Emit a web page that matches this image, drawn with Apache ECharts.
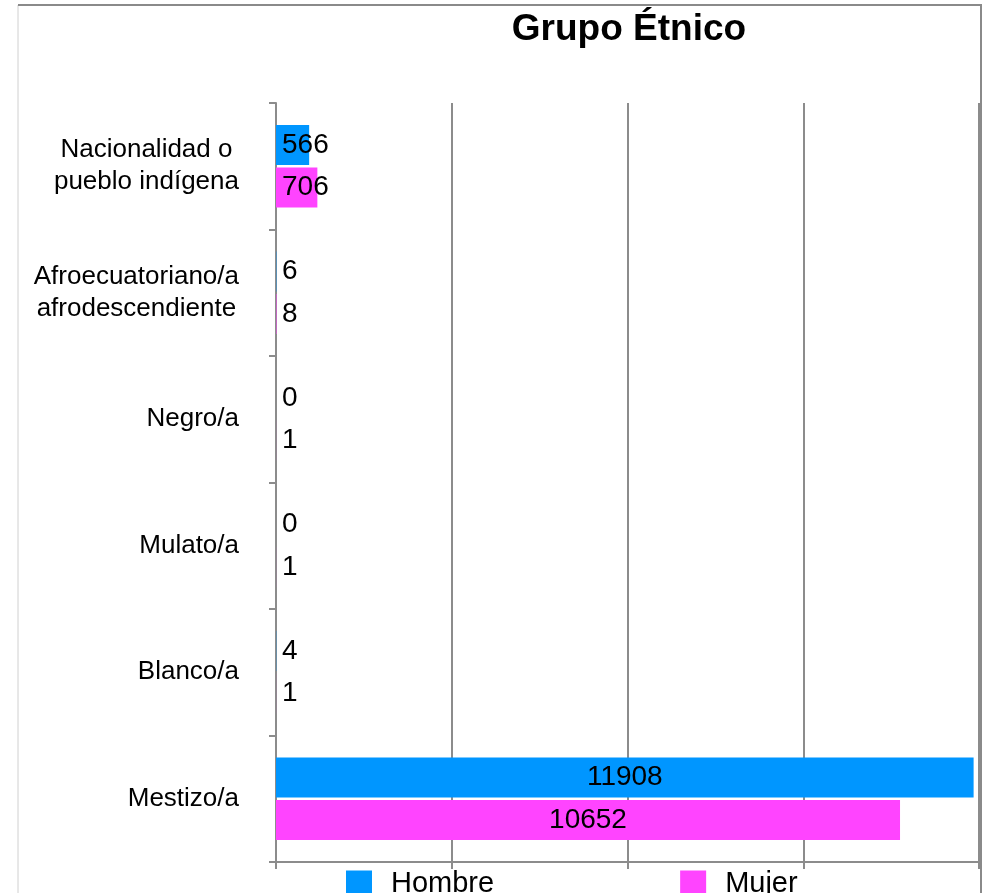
<!DOCTYPE html>
<html>
<head>
<meta charset="utf-8">
<script src="https://cdn.jsdelivr.net/npm/echarts@6/dist/echarts.min.js"></script>
<style>
  html, body { margin: 0; padding: 0; background: #fff; }
  #chart { width: 992px; height: 893px; }
</style>
</head>
<body>
<div id="chart"></div>
<script>
const categories = [
  'Nacionalidad o\npueblo indígena',
  'Afroecuatoriano/a\nafrodescendiente',
  'Negro/a',
  'Mulato/a',
  'Blanco/a',
  'Mestizo/a'
]
const hombre = [566, 6, 0, 0, 4, 11908]
const mujer = [706, 8, 1, 1, 1, 10652]

const font = '"Liberation Sans", Arial, sans-serif'
const axisGray = '#8c8c8c'

// big bars get the label centred, small ones just right of the axis
const toData = (arr) => arr.map((v) => ({
  value: v,
  label: { position: v > 3000 ? 'inside' : 'insideLeft' }
}))

const chart = echarts.init(document.getElementById('chart'))

const option = {
  backgroundColor: '#fff',
  animation: false,
  title: {
    text: 'Grupo Étnico',
    left: 624,
    top: 6,
    textAlign: 'center',
    textStyle: {
      fontFamily: font,
      fontSize: 37,
      fontWeight: 'bold',
      color: '#000'
    }
  },
  legend: {
    data: ['Hombre', 'Mujer'],
    left: 341,
    top: 864,
    icon: 'rect',
    itemWidth: 26,
    itemHeight: 26,
    itemGap: 186,
    textStyle: {
      fontFamily: font,
      fontSize: 29,
      color: '#000',
      padding: [0, 0, 0, 14]
    }
  },
  grid: {
    left: 276,
    right: 13,
    top: 103,
    bottom: 31,
    containLabel: false
  },
  xAxis: {
    type: 'value',
    min: 0,
    max: 12000,
    interval: 3000,
    axisLine: { show: true, lineStyle: { color: axisGray, width: 2 } },
    axisTick: { show: true, length: 7, lineStyle: { color: axisGray, width: 2 } },
    axisLabel: { show: false },
    splitLine: { show: true, lineStyle: { color: axisGray, width: 2 } }
  },
  yAxis: {
    type: 'category',
    inverse: true,
    data: categories,
    axisLine: { show: true, lineStyle: { color: axisGray, width: 2 } },
    axisTick: { show: true, length: 7, lineStyle: { color: axisGray, width: 2 } },
    axisLabel: {
      margin: 37,
      align: 'right',
      color: '#000',
      fontFamily: font,
      fontSize: 26,
      lineHeight: 32,
      formatter: (val) => val.split('\n').map((s) => '{c|' + s + '}').join('\n'),
      rich: {
        c: { align: 'center', fontFamily: font, fontSize: 26, lineHeight: 32, color: '#000' }
      }
    }
  },
  series: [
    {
      name: 'Hombre',
      type: 'bar',
      barWidth: 40,
      barGap: '6%',
      itemStyle: { color: '#0096ff' },
      label: {
        show: true,
        distance: 6,
        color: '#000',
        fontFamily: font,
        fontSize: 28
      },
      data: toData(hombre)
    },
    {
      name: 'Mujer',
      type: 'bar',
      barWidth: 40,
      barGap: '6%',
      itemStyle: { color: '#ff44ff' },
      label: {
        show: true,
        distance: 6,
        color: '#000',
        fontFamily: font,
        fontSize: 28
      },
      data: toData(mujer)
    }
  ],
  graphic: [
    { type: 'line', shape: { x1: 18, y1: 5, x2: 18, y2: 893 }, style: { stroke: '#d0d0d0', lineWidth: 1 } },
    { type: 'line', shape: { x1: 18, y1: 5, x2: 982, y2: 5 }, style: { stroke: '#8a8a8a', lineWidth: 2 } },
    { type: 'line', shape: { x1: 981, y1: 5, x2: 981, y2: 893 }, style: { stroke: '#8a8a8a', lineWidth: 2 } }
  ]
}

chart.setOption(option)
</script>
</body>
</html>
